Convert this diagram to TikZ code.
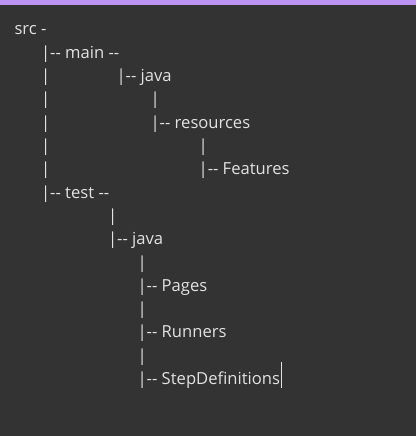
\documentclass[tikz,border=0pt]{standalone}
\usepackage{fontspec}
\setmainfont{Open Sans}
\definecolor{bg}{HTML}{333333}
\definecolor{bar}{HTML}{BC94F4}
\definecolor{txt}{HTML}{E2E2E2}
\begin{document}
\begin{tikzpicture}[x=1pt,y=-1pt,
  tline/.style={anchor=base west,inner sep=0pt,outer sep=0pt,text=txt,font=\fontsize{16.6}{19}\selectfont}]
\useasboundingbox (0,0) rectangle (416,436);
\fill[bg] (0,0) rectangle (416,436);
\fill[bar] (0,0) rectangle (416,5);
\def\dy{23.3}
\def\px#1{#1-4.4}
\def\dd{-{}-}
\node[tline] (src) at (14.5,35) {src -};
\node[tline] (main) at (\px{45.5},35+1*\dy) {|\dd{} main \dd};
\node[tline] (l2a) at (\px{45.5},35+2*\dy) {|};
\node[tline] (mjava) at (\px{121},35+2*\dy) {|\dd{} java};
\node[tline] (l3a) at (\px{45.5},35+3*\dy) {|};
\node[tline] (l3b) at (\px{155},35+3*\dy) {|};
\node[tline] (l4a) at (\px{45.5},35+4*\dy) {|};
\node[tline] (res) at (\px{155},35+4*\dy) {|\dd{} resources};
\node[tline] (l5a) at (\px{45.5},35+5*\dy) {|};
\node[tline] (l5b) at (\px{203},35+5*\dy) {|};
\node[tline] (l6a) at (\px{45.5},35+6*\dy) {|};
\node[tline] (feat) at (\px{203},35+6*\dy) {|\dd{} Features};
\node[tline] (test) at (\px{45.5},35+7*\dy) {|\dd{} test \dd};
\node[tline] (l8) at (\px{112.5},35+8*\dy) {|};
\node[tline] (tjava) at (\px{112.5},35+9*\dy) {|\dd{} java};
\node[tline] (l10) at (\px{142},35+10*\dy) {|};
\node[tline] (pages) at (\px{142},35+11*\dy) {|\dd{} Pages};
\node[tline] (l12) at (\px{142},35+12*\dy) {|};
\node[tline] (run) at (\px{142},35+13*\dy) {|\dd{} Runners};
\node[tline] (l14) at (\px{142},35+14*\dy) {|};
\node[tline] (sd) at (\px{142},35+15*\dy) {|\dd{} StepDefinitions};
\coordinate (caretb) at ([xshift=1.5pt,yshift=-3.5pt]sd.base east);
\draw[txt,line width=1pt] (caretb) -- ++(0,-26);
\end{tikzpicture}
\end{document}
